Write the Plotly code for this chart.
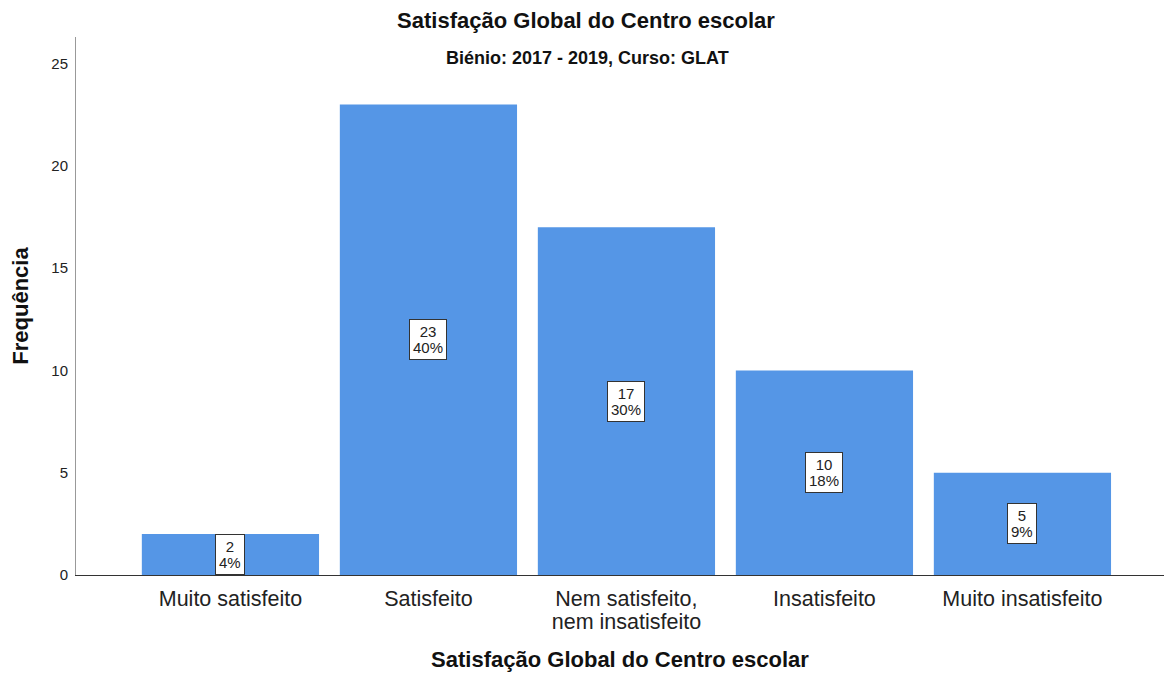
import plotly.graph_objects as go

categories = ["Muito satisfeito", "Satisfeito", "Nem satisfeito,<br>nem insatisfeito",
              "Insatisfeito", "Muito insatisfeito"]
counts = [2, 23, 17, 10, 5]
y_ticks = [0, 5, 10, 15, 20, 25]

total = sum(counts)
pcts = [round(100 * c / total) for c in counts]
xs = list(range(len(categories)))

FONT = "Liberation Sans, Arial, sans-serif"
BAR = "#5596e6"


def big(txt, px):
    return "<br>".join(f'<span style="font-size:{px}px">{p}</span>' for p in txt.split("<br>"))


fig = go.Figure()
fig.add_trace(go.Bar(
    x=xs, y=counts, width=0.895,
    marker=dict(color=BAR, line=dict(width=0)),
    hoverinfo="skip",
))

for x, c, p in zip(xs, counts, pcts):
    fig.add_annotation(
        x=x, y=c / 2, xref="x", yref="y",
        text=big(f"{c}<br>{p}%", 15), showarrow=False,
        font=dict(family=FONT, size=12.5, color="#222"),
        bgcolor="white", bordercolor="#333", borderwidth=1, borderpad=3,
    )

fig.add_annotation(
    x=0.4697, y=1.0, xref="paper", yref="paper", xanchor="center", yanchor="middle",
    yshift=-21, text="<b>Biénio: 2017 - 2019, Curso: GLAT</b>", showarrow=False,
    font=dict(family=FONT, size=18, color="#111"),
)

fig.update_layout(
    width=1156, height=664,
    margin=dict(l=68, r=0, t=29, b=97, autoexpand=False),
    paper_bgcolor="white", plot_bgcolor="white",
    showlegend=False,
    title=dict(text="<b>Satisfação Global do Centro escolar</b>", x=0.5, xanchor="center",
               y=1.0, yref="container", yanchor="top", pad=dict(t=5),
               font=dict(family=FONT, size=22, color="#111")),
    font=dict(family=FONT),
)

fig.update_xaxes(
    range=[-0.78, 4.715], tickmode="array", tickvals=xs,
    ticktext=[big(t, 21.5) for t in categories], automargin=False,
    showgrid=False, zeroline=False, showline=True, linecolor="#333", linewidth=1,
    ticks="", ticklabelstandoff=10, tickfont=dict(family=FONT, size=17, color="#222"),
    title=dict(text="<b>Satisfação Global do Centro escolar</b>",
               font=dict(family=FONT, size=22, color="#111"), standoff=25),
)
fig.update_yaxes(
    range=[0, 26.3], tickmode="array", tickvals=y_ticks, automargin=False,
    showgrid=False, zeroline=False, showline=True, linecolor="#999", linewidth=1,
    ticks="", ticklabelstandoff=4, tickfont=dict(family=FONT, size=15, color="#222"),
    title=dict(text="<b>Frequência</b>", font=dict(family=FONT, size=22, color="#111"),
               standoff=16),
)

fig.write_html("out.html")
